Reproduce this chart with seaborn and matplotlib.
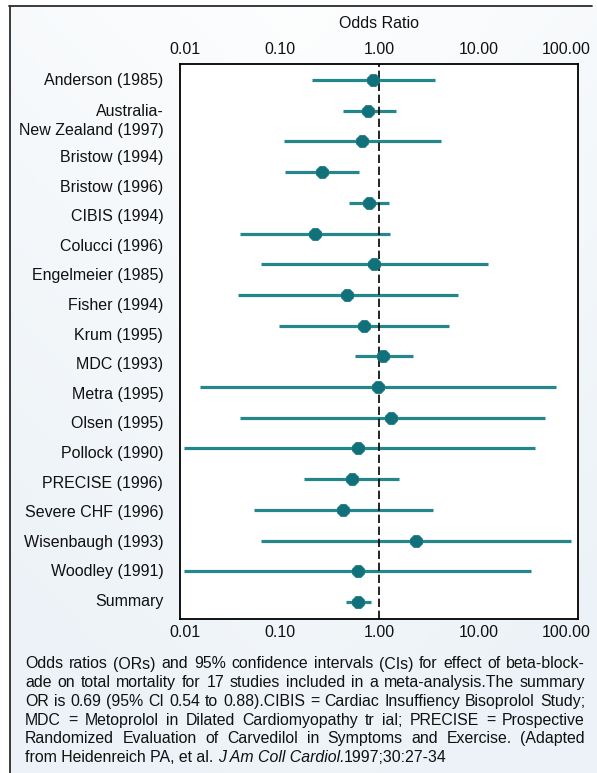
import numpy as np
import pandas as pd
import matplotlib
matplotlib.use("Agg")
import matplotlib.pyplot as plt
import seaborn as sns
from matplotlib.transforms import ScaledTranslation
from matplotlib.lines import Line2D
from matplotlib.ticker import FixedLocator, NullFormatter

# ---------------- data ----------------
studies = ["Anderson (1985)", "Australia-\nNew Zealand (1997)", "Bristow (1994)",
           "Bristow (1996)", "CIBIS (1994)", "Colucci (1996)", "Engelmeier (1985)",
           "Fisher (1994)", "Krum (1995)", "MDC (1993)", "Metra (1995)",
           "Olsen (1995)", "Pollock (1990)", "PRECISE (1996)", "Severe CHF (1996)",
           "Wisenbaugh (1993)", "Woodley (1991)", "Summary"]
odds = [0.88, 0.78, 0.67, 0.27, 0.79, 0.23, 0.90, 0.48, 0.70, 1.10,
        0.97, 1.33, 0.62, 0.53, 0.43, 2.36, 0.62, 0.61]
ci_low = [0.21, 0.43, 0.11, 0.114, 0.50, 0.040, 0.065, 0.038, 0.098, 0.575,
          0.016, 0.040, 0.011, 0.178, 0.055, 0.065, 0.011, 0.47]
ci_high = [3.67, 1.47, 4.18, 0.63, 1.25, 1.29, 12.4, 6.2, 5.1, 2.2,
           60.0, 47.0, 37.0, 1.60, 3.45, 86.0, 33.7, 0.83]
tick_values = [0.01, 0.1, 1, 10, 100]
tick_labels = ["0.01", "0.10", "1.00", "10.00", "100.00"]
axis_title = "Odds Ratio"
caption_lines = [
    "Odds ratios (ORs) and 95% confidence intervals (CIs) for effect of beta-block-",
    "ade on total mortality for 17 studies included in a meta-analysis.The summary",
    "OR is 0.69 (95% CI 0.54 to 0.88).CIBIS = Cardiac Insuffiency Bisoprolol Study;",
    "MDC = Metoprolol in Dilated Cardiomyopathy tr ial; PRECISE = Prospective",
    "Randomized Evaluation of Carvedilol in Symptoms and Exercise. (Adapted",
]
caption_last = ["from Heidenreich PA, et al. ", "J Am Coll Cardiol.", "1997;30:27-34"]

df = pd.DataFrame({"study": studies, "odds": odds, "low": ci_low, "high": ci_high})
df["row"] = np.arange(len(df))

# ---------------- layout ----------------
W, H = 597, 773
row0_px, row_step_px = 80.0, 30.7          # marker rows (pixels)
ax_top_px, ax_bot_px = 64.0, 618.5
# row labels sit on their own slightly tighter grid in the original
label_px = [79.0, 117.5] + [156.0 + 29.6 * k for k in range(16)]
label_pos = [(p - row0_px) / row_step_px for p in label_px]

# ---------------- style ----------------
sns.set_theme(style="white")
plt.rcParams["font.family"] = ["Liberation Sans", "DejaVu Sans"]
plt.rcParams["text.color"] = "#111111"

fig = plt.figure(figsize=(W / 100, H / 100), dpi=100)
fig.patch.set_facecolor("white")

# background gradient inside frame
bg = fig.add_axes([0, 0, 1, 1], zorder=-10)
yy, xx = np.mgrid[0:H, 0:W]
t = np.clip(0.1 + 0.75 * (yy / H) + 0.3 * np.abs(xx / W - 0.5) * 2, 0, 1)
light = np.array([236, 242, 247]) / 255.0
img = np.ones((H, W, 3)) * (1 - t[..., None]) + light * t[..., None]
img[:5, :, :] = 1.0
img[:, :9, :] = 1.0
bg.imshow(img, aspect="auto", extent=(0, 1, 0, 1), origin="upper")
bg.set_axis_off()

# frame lines (top & left)
frame_c = "#2b2b2b"
fig.add_artist(Line2D([9 / W, 592 / W], [1 - 5.5 / H, 1 - 5.5 / H],
                      transform=fig.transFigure, color=frame_c, lw=1.3))
fig.add_artist(Line2D([9.5 / W, 9.5 / W], [1 - 5.5 / H, 0],
                      transform=fig.transFigure, color=frame_c, lw=1.3))

ax = fig.add_axes([180 / W, 1 - ax_bot_px / H, (578 - 180) / W, (ax_bot_px - ax_top_px) / H])
ax.set_facecolor("white")

line_c = "#25868c"
mark_c = "#10717a"

ax.hlines(df["row"], df["low"], df["high"], color=line_c, lw=2.3, zorder=2)
ax.axvline(1, color="black", lw=1.2, ls=(0, (5, 2.2)), zorder=2.5)
sns.scatterplot(data=df, x="odds", y="row", marker="8", s=88, color=mark_c,
                edgecolor=mark_c, linewidth=0.5, ax=ax, zorder=3, legend=False)

ax.set_xscale("log")
ax.set_xlim(0.01, 100)
ax.set_ylim((ax_bot_px - row0_px) / row_step_px, (ax_top_px - row0_px) / row_step_px)
ax.set_xlabel("")
ax.set_ylabel("")

ax.set_xticks(tick_values)
ax.set_xticklabels(tick_labels)
ax.xaxis.set_minor_locator(FixedLocator([0.1, 10]))
ax.xaxis.set_minor_formatter(NullFormatter())
ax.tick_params(axis="x", which="major", length=0, top=True, bottom=True,
               labeltop=True, labelbottom=True, labelsize=11.5, pad=5,
               labelcolor="#111111")
ax.tick_params(axis="x", which="minor", direction="in", length=7, width=1.2,
               top=True, bottom=True, color="black")

ax.set_yticks(label_pos)
ax.set_yticklabels(df["study"])
ax.tick_params(axis="y", length=0, labelsize=11.5, pad=12, labelcolor="#111111")
for lab in ax.get_yticklabels():
    lab.set_linespacing(1.35)

for sp in ax.spines.values():
    sp.set_visible(True)
    sp.set_color("black")
    sp.set_linewidth(1.3)

# nudge end tick labels like the reference
ticks = ax.xaxis.get_major_ticks()
shifts = {0: 5, 4: -12}
for i, dx in shifts.items():
    off = ScaledTranslation(dx / 100, 0, fig.dpi_scale_trans)
    for lab in (ticks[i].label1, ticks[i].label2):
        lab.set_transform(lab.get_transform() + off)

fig.text(379 / W, 1 - 24 / H, axis_title, ha="center", va="center", fontsize=11.5)

# caption (justified lines, like the original)
cap_fs = 11.4
x_left_px, x_right_px = 25.0, 585.0
y_first = 664
step = 18.7
renderer = fig.canvas.get_renderer()
for i, line in enumerate(caption_lines):
    yf = 1 - (y_first + i * step) / H
    words = line.split(" ")
    texts = [fig.text(0, yf, w, ha="left", va="center", fontsize=cap_fs) for w in words]
    widths = [tx.get_window_extent(renderer).width for tx in texts]
    gap = (x_right_px - x_left_px - sum(widths)) / max(len(words) - 1, 1)
    xp = x_left_px
    for tx, wd in zip(texts, widths):
        tx.set_x(xp / W)
        xp += wd + gap

yl = 1 - (y_first + len(caption_lines) * step) / H
t1 = fig.text(x_left_px / W, yl, caption_last[0], ha="left", va="center", fontsize=cap_fs)
t2 = ax.annotate(caption_last[1], xy=(1, 0), xycoords=t1, ha="left", va="bottom",
                 fontsize=cap_fs, style="italic", annotation_clip=False)
t3 = ax.annotate(caption_last[2], xy=(1, 0), xycoords=t2, ha="left", va="bottom",
                 fontsize=cap_fs, annotation_clip=False)

fig.savefig("out.png", dpi=100)
